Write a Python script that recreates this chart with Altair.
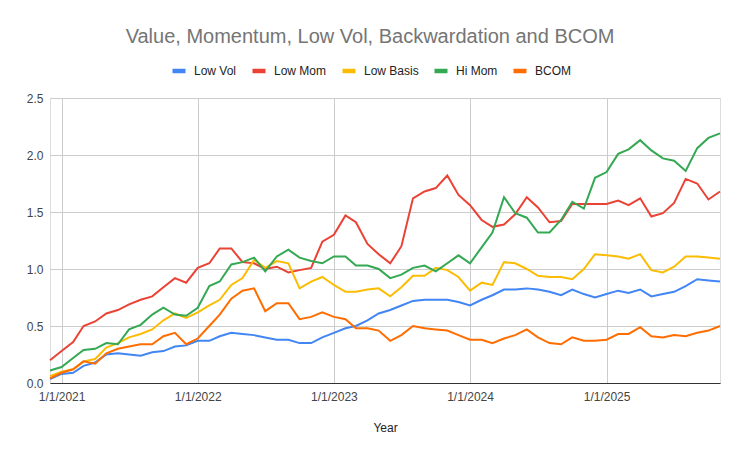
import altair as alt
import pandas as pd

months = pd.date_range("2020-12-01", periods=60, freq="MS").strftime("%Y/%m/%d").tolist()

series_names = ["Low Vol", "Low Mom", "Low Basis", "Hi Mom", "BCOM"]
series_colors = ["#4285F4", "#EA4335", "#FBBC04", "#34A853", "#FF6D01"]

low_vol = [0.035, 0.08, 0.09, 0.15, 0.18, 0.25, 0.26, 0.25, 0.24, 0.27,
           0.28, 0.32, 0.33, 0.37, 0.37, 0.41, 0.44, 0.43, 0.42, 0.40,
           0.38, 0.38, 0.35, 0.35, 0.40, 0.44, 0.48, 0.50, 0.55, 0.61,
           0.64, 0.68, 0.72, 0.73, 0.73, 0.73, 0.71, 0.68, 0.73, 0.77,
           0.82, 0.82, 0.83, 0.82, 0.80, 0.77, 0.82, 0.78, 0.75, 0.78,
           0.81, 0.79, 0.82, 0.76, 0.78, 0.80, 0.85, 0.91, 0.90, 0.89]
low_mom = [0.20, 0.28, 0.36, 0.50, 0.54, 0.61, 0.64, 0.69, 0.73, 0.76,
           0.84, 0.92, 0.88, 1.01, 1.05, 1.18, 1.18, 1.06, 1.05, 1.00,
           1.02, 0.97, 0.99, 1.01, 1.24, 1.30, 1.47, 1.41, 1.22, 1.13,
           1.05, 1.20, 1.62, 1.68, 1.71, 1.82, 1.65, 1.56, 1.43, 1.37,
           1.39, 1.48, 1.63, 1.54, 1.41, 1.42, 1.57, 1.57, 1.57, 1.57,
           1.60, 1.56, 1.62, 1.46, 1.49, 1.58, 1.79, 1.75, 1.61, 1.68]
low_basis = [0.06, 0.10, 0.12, 0.19, 0.21, 0.31, 0.35, 0.40, 0.43, 0.47,
             0.55, 0.61, 0.57, 0.62, 0.68, 0.73, 0.86, 0.92, 1.08, 1.01,
             1.07, 1.05, 0.83, 0.89, 0.93, 0.86, 0.80, 0.80, 0.82, 0.83,
             0.76, 0.84, 0.94, 0.94, 1.01, 0.99, 0.93, 0.81, 0.88, 0.86,
             1.06, 1.05, 1.00, 0.94, 0.93, 0.93, 0.91, 1.00, 1.13, 1.12,
             1.11, 1.09, 1.13, 0.99, 0.97, 1.02, 1.11, 1.11, 1.10, 1.09]
hi_mom = [0.11, 0.14, 0.22, 0.29, 0.30, 0.35, 0.34, 0.47, 0.51, 0.60,
          0.66, 0.60, 0.59, 0.66, 0.85, 0.89, 1.04, 1.06, 1.10, 0.98,
          1.11, 1.17, 1.10, 1.07, 1.05, 1.11, 1.11, 1.03, 1.03, 1.00,
          0.92, 0.95, 1.01, 1.03, 0.98, 1.05, 1.12, 1.05, 1.19, 1.32,
          1.63, 1.49, 1.45, 1.32, 1.32, 1.43, 1.59, 1.53, 1.80, 1.85,
          2.01, 2.05, 2.13, 2.04, 1.97, 1.95, 1.86, 2.06, 2.15, 2.19]
bcom = [0.04, 0.09, 0.12, 0.19, 0.17, 0.26, 0.30, 0.32, 0.34, 0.34,
        0.41, 0.44, 0.34, 0.39, 0.50, 0.60, 0.74, 0.81, 0.83, 0.63,
        0.70, 0.70, 0.56, 0.58, 0.62, 0.58, 0.56, 0.48, 0.48, 0.46,
        0.37, 0.42, 0.50, 0.48, 0.47, 0.46, 0.42, 0.38, 0.38, 0.35,
        0.39, 0.42, 0.47, 0.40, 0.35, 0.34, 0.40, 0.37, 0.37, 0.38,
        0.43, 0.43, 0.49, 0.41, 0.40, 0.42, 0.41, 0.44, 0.46, 0.50]

y_ticks = [0.0, 0.5, 1.0, 1.5, 2.0, 2.5]
x_tick_years = [2021, 2022, 2023, 2024, 2025]

rows = []
for name, vals in zip(series_names, [low_vol, low_mom, low_basis, hi_mom, bcom]):
    for d, v in zip(months, vals):
        rows.append({"date": d, "series": name, "value": v, "order": series_names.index(name)})
df = pd.DataFrame(rows)

FONT = "Arial, Liberation Sans, sans-serif"

chart = alt.Chart(df).mark_line(strokeWidth=2).encode(
    x=alt.X(
        "date:T",
        title="Year",
        scale=alt.Scale(
            domain=[alt.DateTime(year=2020, month=12, date=1), alt.DateTime(year=2025, month=11, date=1)],
            nice=False,
        ),
        axis=alt.Axis(
            values=[alt.DateTime(year=y, month=1, date=1) for y in x_tick_years],
            format="%-m/%-d/%Y",
            labelFont=FONT, labelFontSize=12, labelColor="#444444",
            labelPadding=8, ticks=False, tickSize=0,
            domainColor="#333333", domainWidth=1,
            gridColor="#cccccc", gridWidth=1,
            titleFont=FONT, titleFontSize=12, titleFontWeight="normal", titleColor="#222222",
            titlePadding=20,
        ),
    ),
    y=alt.Y(
        "value:Q",
        title=None,
        scale=alt.Scale(domain=[0, 2.5], nice=False),
        axis=alt.Axis(
            values=y_ticks, format=".1f",
            labelFont=FONT, labelFontSize=12, labelColor="#444444",
            labelPadding=7, ticks=False, tickSize=0, domain=False,
            gridColor="#cccccc", gridWidth=1,
        ),
    ),
    color=alt.Color(
        "series:N",
        scale=alt.Scale(domain=series_names, range=series_colors),
        legend=alt.Legend(
            orient="none", legendX=120, legendY=-36, direction="horizontal",
            title=None, symbolType="stroke", symbolSize=169, symbolStrokeWidth=4.5,
            labelFont=FONT, labelFontSize=12, labelColor="#222222",
            labelOffset=6, columnPadding=6,
        ),
    ),
    order=alt.Order("order:Q"),
).properties(
    width=670,
    height=285,
    autosize=alt.AutoSizeParams(type="none"),
    padding={"left": 42, "top": 90, "right": 13, "bottom": 60},
    title=alt.Title(
        text="Value, Momentum, Low Vol, Backwardation and BCOM",
        font=FONT, fontSize=20, fontWeight="normal", color="#757575",
        anchor="middle", dx=-15, offset=15,
    ),
).configure_view(stroke=None).configure(background="white")

chart.save("out.html", embed_options={"renderer": "svg", "actions": False})
